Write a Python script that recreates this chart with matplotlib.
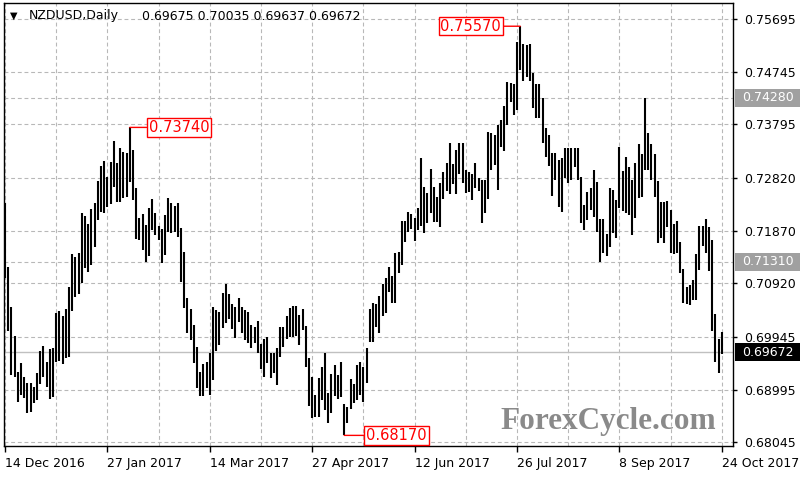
import matplotlib
matplotlib.use('Agg')
import matplotlib.pyplot as plt
from matplotlib.patches import Rectangle

# NZDUSD daily bars, 14 Dec 2016 .. 24 Oct 2017
high = [0.7237, 0.7122, 0.7049, 0.6997, 0.6932, 0.6948, 0.6923, 0.6912, 0.6912, 0.6905,
        0.6930, 0.6970, 0.6979, 0.6950, 0.6973, 0.6975, 0.7038, 0.7042, 0.7033, 0.7046,
        0.7085, 0.7145, 0.7140, 0.7147, 0.7219, 0.7214, 0.7199, 0.7226, 0.7237, 0.7277,
        0.7304, 0.7313, 0.7284, 0.7311, 0.7349, 0.7310, 0.7337, 0.7330, 0.7328, 0.7374,
        0.7333, 0.7264, 0.7210, 0.7217, 0.7198, 0.7228, 0.7245, 0.7219, 0.7196, 0.7190,
        0.7216, 0.7246, 0.7237, 0.7232, 0.7237, 0.7192, 0.7149, 0.7066, 0.7046, 0.7017,
        0.6977, 0.6932, 0.6946, 0.6950, 0.6966, 0.7049, 0.7044, 0.7040, 0.7075, 0.7091,
        0.7073, 0.7055, 0.7049, 0.7066, 0.7049, 0.7044, 0.7040, 0.7017, 0.7013, 0.7024,
        0.6982, 0.6991, 0.6995, 0.6966, 0.6966, 0.6975, 0.7013, 0.7013, 0.7033, 0.7047,
        0.7051, 0.7051, 0.7035, 0.7046, 0.7015, 0.6957, 0.6923, 0.6890, 0.6921, 0.6941,
        0.6966, 0.6894, 0.6928, 0.6944, 0.6926, 0.6950, 0.6874, 0.6868, 0.6919, 0.6910,
        0.6944, 0.6950, 0.6941, 0.6975, 0.7046, 0.7056, 0.7055, 0.7069, 0.7091, 0.7102,
        0.7122, 0.7105, 0.7147, 0.7149, 0.7205, 0.7205, 0.7221, 0.7217, 0.7210, 0.7228,
        0.7319, 0.7266, 0.7255, 0.7299, 0.7266, 0.7248, 0.7273, 0.7293, 0.7310, 0.7346,
        0.7308, 0.7333, 0.7346, 0.7346, 0.7297, 0.7293, 0.7290, 0.7310, 0.7283, 0.7279,
        0.7279, 0.7366, 0.7364, 0.7360, 0.7378, 0.7387, 0.7413, 0.7456, 0.7454, 0.7453,
        0.7528, 0.7557, 0.7525, 0.7523, 0.7525, 0.7472, 0.7453, 0.7453, 0.7427, 0.7373,
        0.7360, 0.7328, 0.7328, 0.7315, 0.7319, 0.7337, 0.7337, 0.7337, 0.7337, 0.7337,
        0.7284, 0.7234, 0.7257, 0.7264, 0.7297, 0.7275, 0.7208, 0.7208, 0.7181, 0.7264,
        0.7261, 0.7243, 0.7338, 0.7295, 0.7320, 0.7302, 0.7279, 0.7310, 0.7344, 0.7326,
        0.7428, 0.7364, 0.7344, 0.7326, 0.7277, 0.7239, 0.7239, 0.7241, 0.7225, 0.7199,
        0.7205, 0.7167, 0.7118, 0.7085, 0.7089, 0.7098, 0.7145, 0.7196, 0.7196, 0.7208,
        0.7194, 0.7170, 0.7037, 0.6991, 0.70035]
low = [0.7102, 0.7006, 0.6926, 0.6923, 0.6877, 0.6890, 0.6885, 0.6858, 0.6859, 0.6876,
       0.6881, 0.6910, 0.6923, 0.6905, 0.6883, 0.6886, 0.6950, 0.6952, 0.6946, 0.6957,
       0.6959, 0.7042, 0.7067, 0.7073, 0.7093, 0.7120, 0.7113, 0.7125, 0.7158, 0.7207,
       0.7221, 0.7219, 0.7230, 0.7236, 0.7266, 0.7239, 0.7239, 0.7246, 0.7248, 0.7275,
       0.7243, 0.7172, 0.7170, 0.7152, 0.7131, 0.7141, 0.7188, 0.7179, 0.7170, 0.7129,
       0.7143, 0.7185, 0.7183, 0.7185, 0.7176, 0.7094, 0.7047, 0.7002, 0.6990, 0.6948,
       0.6903, 0.6888, 0.6888, 0.6903, 0.6890, 0.6917, 0.6970, 0.6980, 0.7011, 0.7020,
       0.7028, 0.7009, 0.6993, 0.7022, 0.7002, 0.6990, 0.6984, 0.6975, 0.6984, 0.6966,
       0.6937, 0.6923, 0.6948, 0.6921, 0.6930, 0.6908, 0.6959, 0.6977, 0.6991, 0.6995,
       0.6995, 0.6997, 0.6980, 0.7008, 0.6941, 0.6870, 0.6848, 0.6850, 0.6850, 0.6881,
       0.6863, 0.6839, 0.6858, 0.6888, 0.6883, 0.6886, 0.6817, 0.6839, 0.6865, 0.6876,
       0.6881, 0.6890, 0.6877, 0.6912, 0.6986, 0.6986, 0.7013, 0.7002, 0.7033, 0.7038,
       0.7076, 0.7056, 0.7056, 0.7111, 0.7125, 0.7167, 0.7185, 0.7190, 0.7169, 0.7188,
       0.7196, 0.7183, 0.7201, 0.7219, 0.7203, 0.7203, 0.7194, 0.7245, 0.7259, 0.7254,
       0.7272, 0.7254, 0.7290, 0.7273, 0.7255, 0.7257, 0.7243, 0.7264, 0.7259, 0.7201,
       0.7219, 0.7245, 0.7297, 0.7306, 0.7261, 0.7339, 0.7331, 0.7378, 0.7420, 0.7396,
       0.7406, 0.7478, 0.7458, 0.7465, 0.7458, 0.7409, 0.7391, 0.7391, 0.7346, 0.7320,
       0.7304, 0.7250, 0.7279, 0.7230, 0.7221, 0.7283, 0.7273, 0.7279, 0.7302, 0.7279,
       0.7201, 0.7188, 0.7207, 0.7225, 0.7212, 0.7185, 0.7131, 0.7147, 0.7141, 0.7158,
       0.7183, 0.7174, 0.7228, 0.7223, 0.7219, 0.7216, 0.7179, 0.7210, 0.7246, 0.7248,
       0.7297, 0.7297, 0.7279, 0.7248, 0.7165, 0.7174, 0.7165, 0.7194, 0.7147, 0.7145,
       0.7147, 0.7111, 0.7056, 0.7055, 0.7053, 0.7062, 0.7062, 0.7116, 0.7160, 0.7147,
       0.7114, 0.7006, 0.6950, 0.6930, 0.69637]

last_ohlc = [0.69675, 0.70035, 0.69637, 0.69672]
price_ticks = [0.68045, 0.68995, 0.69945, 0.70920, 0.71870, 0.72820, 0.73795, 0.74745, 0.75695]
date_labels = ['14 Dec 2016', '27 Jan 2017', '14 Mar 2017', '27 Apr 2017',
               '12 Jun 2017', '26 Jul 2017', '8 Sep 2017', '24 Oct 2017']
levels = [0.74280, 0.71310]
bars_per_label = 32

n = len(high)
idx = list(range(n))

fig = plt.figure(figsize=(8, 4.8), dpi=100)
ax = fig.add_axes([4 / 800, 34 / 480, 729 / 800, 443 / 480])
ax.set_xlim(-0.31, 227.5)
ax.set_ylim(0.67978, 0.75990)

grid_kw = dict(color='#b8b8b8', lw=0.8, linestyle=(0, (3.5, 2.5)))

# grid
ax.set_xticks(list(range(0, n, bars_per_label)))
ax.set_xticks(list(range(bars_per_label // 2, n, bars_per_label)), minor=True)
ax.set_xticklabels(date_labels, ha='left')
ax.set_yticks(price_ticks)
ax.set_yticklabels([f'{p:.5f}' for p in price_ticks])
ax.grid(True, which='both', **grid_kw)
ax.set_axisbelow(True)
for lv in levels:
    ax.axhline(lv, zorder=1, **grid_kw)
ax.axhline(last_ohlc[3], color='#c0c0c0', lw=1.0, zorder=1)

ax.yaxis.tick_right()
ax.tick_params(axis='y', which='major', direction='out', length=3, width=1,
               pad=5, labelsize=9)
ax.tick_params(axis='x', which='major', direction='out', length=4, width=1,
               pad=4, labelsize=9)
ax.tick_params(axis='x', which='minor', length=0)
for s in ax.spines.values():
    s.set_color('black')
    s.set_linewidth(1.0)

# bars
ax.vlines(idx, low, high, color='black', lw=1.5, zorder=3)

# swing labels
red_box = dict(boxstyle='square,pad=0.12', fc='white', ec='red', lw=1)
arrow = dict(arrowstyle='-', color='red', lw=1, shrinkA=0, shrinkB=0)
hi_jan = 39
hi_jul = high.index(max(high))
lo_may = low.index(min(low))
ax.annotate(f'{high[hi_jan]:.5f}', xy=(hi_jan, high[hi_jan]), xytext=(19, 0),
            textcoords='offset pixels', ha='left', va='center', color='red',
            fontsize=10.5, bbox=red_box, arrowprops=arrow, zorder=5)
ax.annotate(f'{high[hi_jul]:.5f}', xy=(hi_jul, high[hi_jul]), xytext=(-19, 0),
            textcoords='offset pixels', ha='right', va='center', color='red',
            fontsize=10.5, bbox=red_box, arrowprops=arrow, zorder=5)
ax.annotate(f'{low[lo_may]:.5f}', xy=(lo_may, low[lo_may]), xytext=(22, 0),
            textcoords='offset pixels', ha='left', va='center', color='red',
            fontsize=10.5, bbox=red_box, arrowprops=arrow, zorder=5)

# price boxes on the right scale
ytr = ax.get_yaxis_transform()
box_h = 18 * (0.75990 - 0.67978) / 443
for val, col in [(levels[0], '#a0a0a0'), (levels[1], '#a0a0a0'), (last_ohlc[3], 'black')]:
    ax.add_patch(Rectangle((1.0027, val - box_h / 2), 0.095, box_h, transform=ytr,
                           fc=col, ec='none', clip_on=False, zorder=6))
    ax.text(1.0123, val, f'{val:.5f}', transform=ytr, ha='left', va='center',
            color='white', fontsize=9, clip_on=False, zorder=7)

# header
fig.text(10 / 800, 1 - 16 / 480, '\u25bc', fontsize=7, va='center', ha='left')
fig.text(29 / 800, 1 - 16 / 480, 'NZDUSD,Daily', fontsize=9, va='center', ha='left')
fig.text(142 / 800, 1 - 16 / 480, ' '.join(f'{v:.5f}' for v in last_ohlc),
         fontsize=9, va='center', ha='left')

# watermark
fig.text(608 / 800, 1 - 421 / 480, 'ForexCycle.com', ha='center', va='center',
         fontsize=22.5, family='Liberation Serif', weight='bold', color='#8a8a8a')

fig.savefig('out.png', dpi=100)
